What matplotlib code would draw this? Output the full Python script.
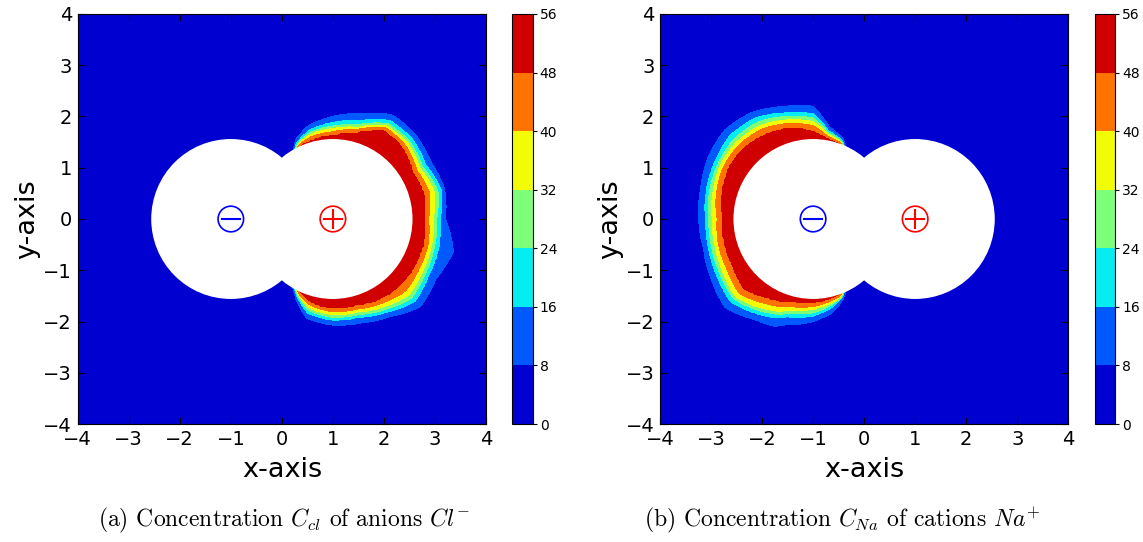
import numpy as np
import matplotlib
matplotlib.use("Agg")
import matplotlib.pyplot as plt
from matplotlib.patches import Circle

# ---- data ----
levels = [0, 8, 16, 24, 32, 40, 48, 56]
cbar_ticks = [0, 8, 16, 24, 32, 40, 48, 56]
axis_ticks = [-4, -3, -2, -1, 0, 1, 2, 3, 4]
sphere_radius = 1.56
anion_center = (-1.0, 0.0)   # marked with minus
cation_center = (1.0, 0.0)   # marked with plus

# boundary radii (distance from the attracting sphere centre) of the
# 48, 40, 32, 24, 16 and 8 contour levels, for a set of polar angles
a_angles = [-123, -115, -105, -90, -75, -60, -45, -30, -15, 0, 15, 30, 45, 60, 75, 90, 105, 115, 123]
a_radii = [
    [1.40, 1.41, 1.42, 1.43, 1.44, 1.45],
    [1.57, 1.60, 1.62, 1.64, 1.66, 1.71],
    [1.68, 1.74, 1.80, 1.85, 1.90, 2.00],
    [1.76, 1.81, 1.87, 1.92, 1.97, 2.07],
    [1.75, 1.82, 1.88, 1.93, 1.98, 2.10],
    [1.82, 1.90, 1.98, 2.04, 2.10, 2.20],
    [1.85, 2.00, 2.10, 2.18, 2.27, 2.42],
    [1.85, 1.95, 2.03, 2.10, 2.17, 2.33],
    [1.85, 1.93, 2.00, 2.06, 2.14, 2.45],
    [1.80, 1.87, 1.97, 2.03, 2.10, 2.20],
    [1.86, 1.96, 2.06, 2.13, 2.20, 2.26],
    [1.82, 1.90, 1.97, 2.03, 2.10, 2.22],
    [1.95, 2.02, 2.08, 2.13, 2.20, 2.30],
    [2.00, 2.06, 2.10, 2.15, 2.22, 2.34],
    [1.74, 1.81, 1.85, 1.90, 1.98, 2.13],
    [1.64, 1.70, 1.77, 1.81, 1.88, 2.00],
    [1.60, 1.66, 1.71, 1.75, 1.79, 1.88],
    [1.56, 1.59, 1.61, 1.63, 1.65, 1.71],
    [1.40, 1.41, 1.42, 1.43, 1.44, 1.45],
]

b_angles = [63, 70, 80, 90, 105, 120, 135, 150, 165, 180, 195, 210, 225, 240, 250, 255, 270, 282, 290, 297]
b_radii = [
    [1.40, 1.41, 1.42, 1.43, 1.44, 1.45],
    [1.56, 1.58, 1.60, 1.62, 1.64, 1.68],
    [1.60, 1.64, 1.68, 1.71, 1.74, 1.82],
    [1.72, 1.82, 1.90, 1.97, 2.05, 2.20],
    [1.85, 1.93, 2.00, 2.07, 2.14, 2.27],
    [1.90, 2.02, 2.10, 2.18, 2.27, 2.40],
    [1.95, 2.05, 2.12, 2.20, 2.30, 2.45],
    [1.93, 2.03, 2.10, 2.15, 2.22, 2.38],
    [1.86, 1.96, 2.03, 2.10, 2.16, 2.28],
    [1.78, 1.88, 1.98, 2.04, 2.10, 2.24],
    [1.81, 1.92, 1.99, 2.06, 2.12, 2.22],
    [1.83, 1.95, 2.05, 2.11, 2.18, 2.31],
    [1.93, 2.05, 2.15, 2.20, 2.28, 2.44],
    [1.79, 1.90, 2.01, 2.07, 2.14, 2.27],
    [1.72, 1.82, 1.92, 1.98, 2.05, 2.23],
    [1.67, 1.77, 1.84, 1.90, 1.97, 2.14],
    [1.64, 1.71, 1.76, 1.83, 1.89, 2.00],
    [1.60, 1.64, 1.68, 1.72, 1.76, 1.86],
    [1.56, 1.59, 1.61, 1.62, 1.64, 1.68],
    [1.40, 1.41, 1.42, 1.43, 1.44, 1.45],
]
band_values = [48, 40, 32, 24, 16, 8]

captions = [r"(a) Concentration $C_{cl}$ of anions $Cl^{-}$",
            r"(b) Concentration $C_{Na}$ of cations $Na^{+}$"]


def build_field(angles, radii, center, theta_offset):
    x = np.linspace(-4, 4, 241)
    y = np.linspace(-4, 4, 241)
    X, Y = np.meshgrid(x, y)
    dx = X - center[0]
    dy = Y - center[1]
    r = np.hypot(dx, dy)
    th = np.degrees(np.arctan2(dy, dx))
    th = (th - theta_offset) % 360 + theta_offset
    radii = np.asarray(radii)
    vanish = radii[0]
    Z = np.zeros_like(X)
    for i in range(X.shape[0]):
        for j in range(X.shape[1]):
            t = th[i, j]
            rr = [np.interp(t, angles, radii[:, k], left=vanish[k], right=vanish[k])
                  for k in range(6)]
            xp = [0.0] + rr + [rr[-1] + 0.15]
            fp = [55.0] + band_values + [0.0]
            Z[i, j] = np.interp(r[i, j], xp, fp)
    return X, Y, Z


fig = plt.figure(figsize=(11.43, 5.42), dpi=100)
plt.rcParams['mathtext.fontset'] = 'cm'

ax_pos = [[0.068, 0.2177, 0.3572, 0.7565], [0.5774, 0.2177, 0.3572, 0.7565]]
cb_pos = [[0.4482, 0.2177, 0.0179, 0.7565], [0.9577, 0.2177, 0.0179, 0.7565]]
fields = [build_field(a_angles, a_radii, cation_center, -180),
          build_field(b_angles, b_radii, anion_center, 0)]
cap_x = [0.248, 0.737]

for p in range(2):
    ax = fig.add_axes(ax_pos[p])
    X, Y, Z = fields[p]
    cs = ax.contourf(X, Y, Z, levels=levels, cmap='jet')
    for c in (anion_center, cation_center):
        ax.add_patch(Circle(c, sphere_radius, facecolor='white', edgecolor='none', zorder=3))
    ax.add_patch(Circle(anion_center, 0.25, fill=False, edgecolor='#0000ff', lw=1.2, zorder=4))
    ax.plot([anion_center[0] - 0.17, anion_center[0] + 0.17], [0, 0], color='#0000ff', lw=1.5, zorder=4)
    ax.add_patch(Circle(cation_center, 0.25, fill=False, edgecolor='#ff0000', lw=1.2, zorder=4))
    ax.plot([cation_center[0] - 0.17, cation_center[0] + 0.17], [0, 0], color='#ff0000', lw=1.5, zorder=4)
    ax.plot([cation_center[0], cation_center[0]], [-0.17, 0.17], color='#ff0000', lw=1.5, zorder=4)
    ax.set_xlim(-4, 4)
    ax.set_ylim(-4, 4)
    ax.set_xticks(axis_ticks)
    ax.set_yticks(axis_ticks)
    ax.tick_params(direction='in', top=True, right=True, length=5, labelsize=14, pad=4)
    ax.set_xlabel('x-axis', fontsize=19.5, labelpad=6)
    ax.set_ylabel('y-axis', fontsize=19.5, labelpad=2)
    cax = fig.add_axes(cb_pos[p])
    cb = fig.colorbar(cs, cax=cax, ticks=cbar_ticks)
    cb.ax.tick_params(labelsize=10, length=3, pad=2)
    fig.text(cap_x[p], 0.04, captions[p], ha='center', va='center',
             fontsize=17, family='cmr10')

fig.savefig('out.png', dpi=100)
